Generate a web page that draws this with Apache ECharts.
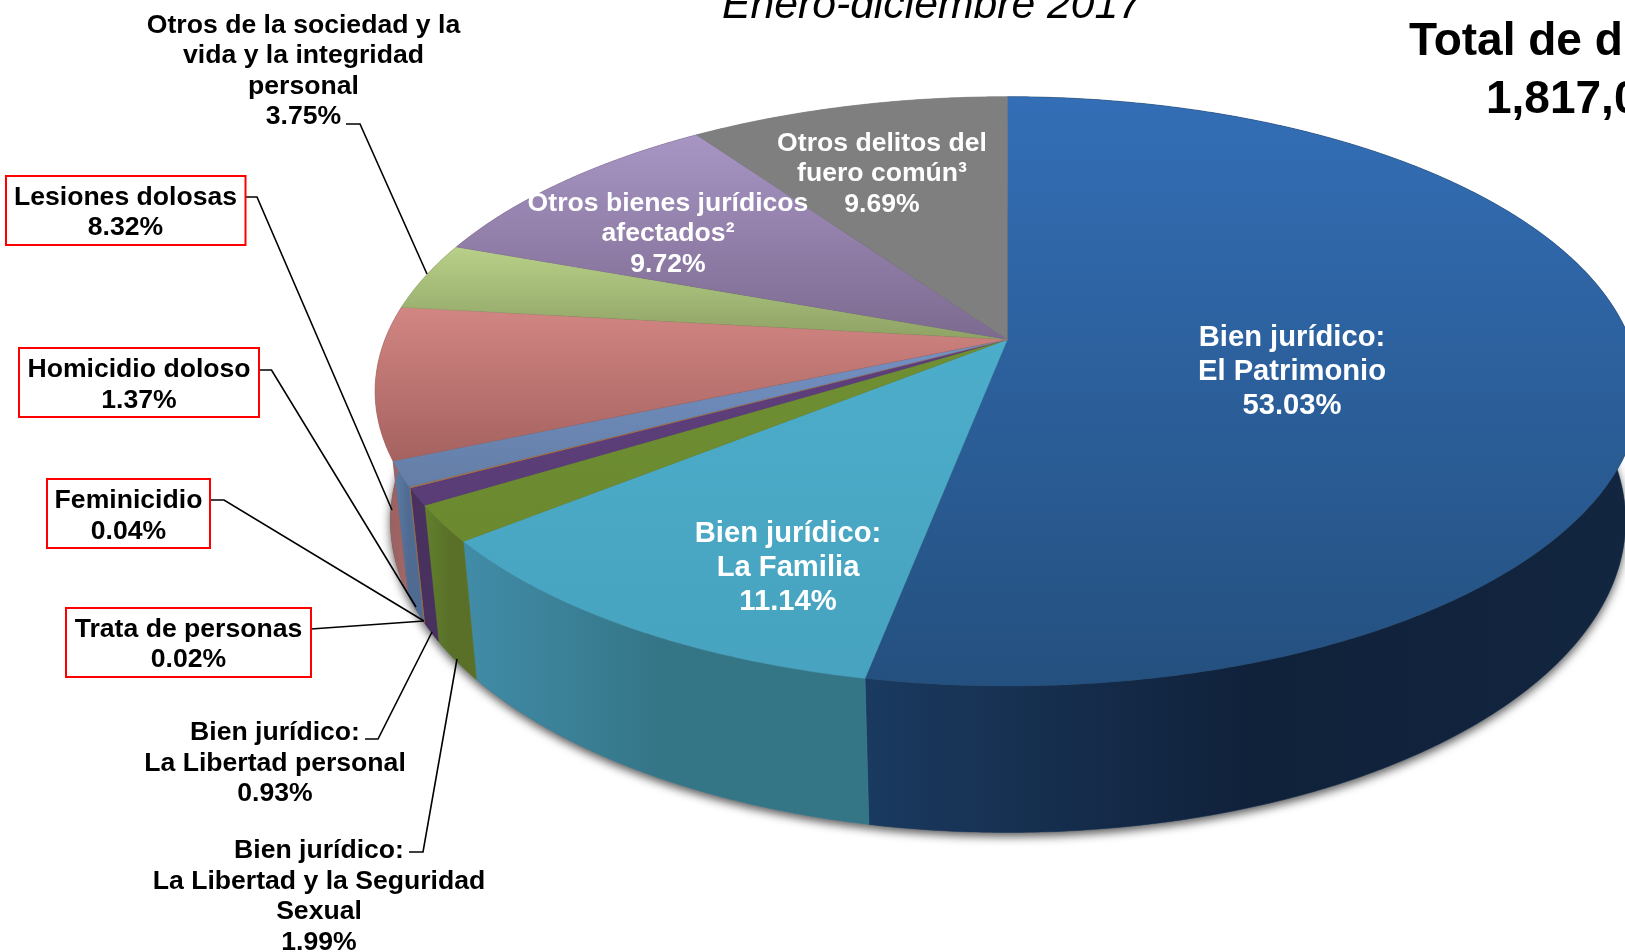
<!DOCTYPE html>
<html><head><meta charset="utf-8">
<style>html,body{margin:0;padding:0;background:#fff;overflow:hidden}#c{width:1625px;height:952px}</style>
<script src="https://cdn.jsdelivr.net/npm/echarts@6/dist/echarts.min.js"></script>
</head><body><div id="c"></div>
<script>
const categories = ['Bien jurídico:\nEl Patrimonio','Bien jurídico:\nLa Familia','Bien jurídico:\nLa Libertad y la Seguridad\nSexual','Bien jurídico:\nLa Libertad personal','Trata de personas','Feminicidio','Homicidio doloso','Lesiones dolosas','Otros de la sociedad y la\nvida y la integridad\npersonal','Otros bienes jurídicos\nafectados²','Otros delitos del\nfuero común³'];
const values = [53.03,11.14,1.99,0.93,0.02,0.04,1.37,8.32,3.75,9.72,9.69];
const titleText = 'Enero-diciembre 2017';
const totalLines = ['Total de d','1,817,0'];

const topColors = [['#336eb6','#24507f'],['#4cadca','#47a3bf'],['#6f8f33','#6b8a30'],['#5e3f7c','#5a3c76'],['#c0803a','#c0803a'],['#b8763a','#b8763a'],['#7391c4','#647ea6'],['#d28683','#a5625f'],['#b8d089','#8ea264'],['#a795c4','#7d6a90'],['#7f7f7f','#7f7f7f']];
const wallColors = [['#1a3a60','#10213a','#13263f'],['#418ca8','#347586','#347586'],['#61802c','#5a7029','#5a7029'],['#48315f','#48315f','#48315f'],['#b07030','#b07030','#b07030'],['#a06a30','#a06a30','#a06a30'],['#5f7ea6','#4f6b92','#4f6b92'],['#96605f','#9c6362','#a86c6a'],['#8ea264','#8ea264','#8ea264'],['#7d6a90','#7d6a90','#7d6a90'],['#7f7f7f','#7f7f7f','#7f7f7f']];

// perspective disc model
const total = values.reduce((a,b)=>a+b,0);
const starts = []; values.reduce((a,v,i)=>(starts[i]=a,a+v),0);
const B = -0.176;
const topDisc = {cx:1007.5, cy:339.5, C:622.5, A:285.5};
const botDisc = {cx:1008, cy:466, C:608, A:302};
function proj(d, pct){
  const t = pct/total*2*Math.PI, u = Math.sin(t), v = -Math.cos(t), w = 1+B*v;
  return [d.cx+d.C*u/w, d.cy+d.A*v/w];
}
function arc(d, a, b){
  const n = Math.max(2, Math.ceil((b-a)/total*720)), pts = [];
  for(let i=0;i<=n;i++) pts.push(proj(d, a+(b-a)*i/n));
  return pts;
}
const grad = (x,y,x2,y2,cols)=>new echarts.graphic.LinearGradient(x,y,x2,y2,cols.map((c,i)=>({offset:i/(cols.length-1),color:c})));

function renderShadow(params, api){
  const pts = arc(botDisc,0,total);
  return {type:'polygon', shape:{points:pts}, style:{fill:'#555', shadowColor:'rgba(0,0,0,0.65)', shadowBlur:10, shadowOffsetX:0, shadowOffsetY:4}};
}
function renderWall(params, api){
  const i = params.dataIndex, a = starts[i], b = a+api.value(0);
  const pts = arc(topDisc,a,b).concat(arc(botDisc,a,b).reverse());
  const f = grad(0,0,1,0,wallColors[i]);
  return {type:'polygon', shape:{points:pts}, style:{fill:f, stroke:wallColors[i][0], lineWidth:0.4}};
}
function renderTop(params, api){
  const i = params.dataIndex, a = starts[i], b = a+api.value(0);
  const pts = [[topDisc.cx,topDisc.cy]].concat(arc(topDisc,a,b));
  const f = grad(0,0,0,1,topColors[i]);
  return {type:'polygon', shape:{points:pts}, style:{fill:f, stroke:topColors[i][1], lineWidth:values[i]<0.1?0.2:0.3}};
}

const FF = '"Liberation Sans",Arial,sans-serif';
const lbl = i => categories[i]+'\n'+values[i].toFixed(2)+'%';
function text(str,x,y,o){
  return {type:'text', z:20, style:Object.assign({text:str,x:x,y:y,align:'center',verticalAlign:'top',fontFamily:FF,fontWeight:'bold',fontSize:26.6,lineHeight:30.6,fill:'#000'},o||{})};
}
function box(x,y,w,h){ return {type:'rect', z:15, shape:{x:x,y:y,width:w,height:h}, style:{fill:'#fff',stroke:'#ff0000',lineWidth:2}}; }
function leader(pts){ return {type:'polyline', z:14, shape:{points:pts}, style:{fill:null,stroke:'#000',lineWidth:1.6}}; }

const graphics = [
  leader([[346,124],[360,124],[427,274]]),
  leader([[246,197],[257,197],[392,510]]),
  leader([[259,370],[271.5,370],[416,607]]),
  leader([[210.5,500],[224,500],[424,621]]),
  leader([[311,629],[424,621]]),
  leader([[365,739],[378,739],[432,632]]),
  leader([[409,852],[423,852],[457,659]]),
  box(6,176,239.5,69), box(19,348,240,69), box(47,479,163,69), box(66,608,245,69),
  text(lbl(8),303.5,10),
  text(lbl(7),125.5,182),
  text(lbl(6),139,354.5),
  text(lbl(5),128.5,485.5),
  text(lbl(4),188.5,614),
  text(lbl(3),275,717.5),
  text(lbl(2),319,835.5),
  text(lbl(10),882,128,{fill:'#fff'}),
  text(lbl(9),668,188,{fill:'#fff'}),
  text(lbl(0),1292,321,{fill:'#fff',fontSize:29.2,lineHeight:34}),
  text(lbl(1),788,517,{fill:'#fff',fontSize:29.2,lineHeight:34}),
  text(titleText,932,-17,{fontWeight:'normal',fontStyle:'italic',fontSize:42.7,lineHeight:46,fill:'#000'}),
  text(totalLines[0],1409,16,{align:'left',fontSize:46,lineHeight:52}),
  text(totalLines[1],1486,74,{align:'left',fontSize:46,lineHeight:52})
];

const chart = echarts.init(document.getElementById('c'),null,{renderer:'canvas',width:1625,height:952});
chart.setOption({
  animation:false,
  backgroundColor:'#fff',
  series:[
    {type:'custom',name:'sombra',coordinateSystem:'none',z:1,silent:true,data:[[total]],renderItem:renderShadow},
    {type:'custom',name:'pared',coordinateSystem:'none',z:2,silent:true,data:values.map(v=>[v]),renderItem:renderWall},
    {type:'custom',name:'tapa',coordinateSystem:'none',z:3,silent:true,data:values.map(v=>[v]),renderItem:renderTop}
  ],
  graphic:{elements:graphics}
});
</script></body></html>
